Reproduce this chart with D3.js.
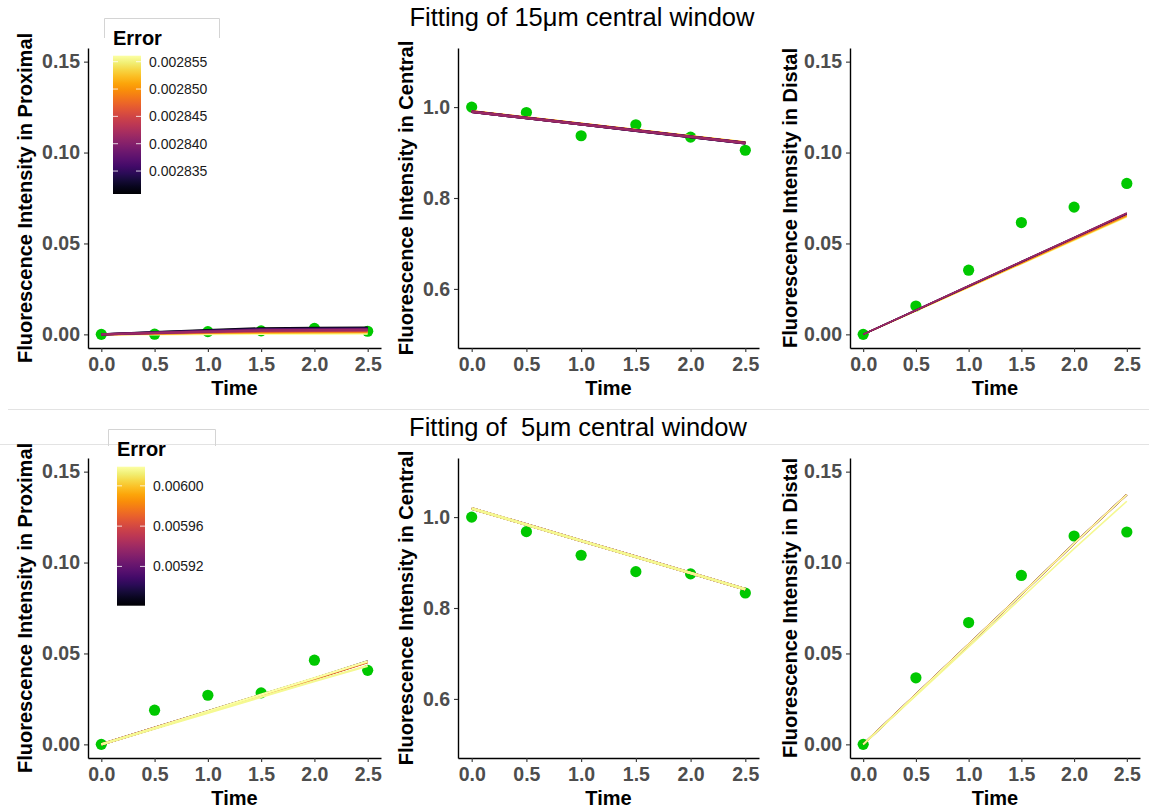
<!DOCTYPE html>
<html>
<head>
<meta charset="utf-8">
<script src="https://cdn.jsdelivr.net/npm/d3@7"></script>
<style>
  html, body { margin: 0; padding: 0; background: #fff; }
  svg { display: block; }
</style>
</head>
<body>
<svg id="chart" width="1149" height="811"></svg>
<script>
// Sampling times shared by every compartment
const TIME = [0, 0.5, 1, 1.5, 2, 2.5];

// ---- 15 µm central window ----
const obs15Proximal = [0, 0.0001, 0.0015, 0.0019, 0.0033, 0.0017];
const obs15Central  = [1.000, 0.988, 0.937, 0.961, 0.934, 0.905];
const obs15Distal   = [0, 0.0156, 0.0353, 0.0615, 0.0700, 0.0830];

// one entry per fitted parameter set (drawn in this order)
const fitErr15 = [0.0028561, 0.0028523, 0.0028485, 0.0028447, 0.0028308, 0.0028346, 0.0028384, 0.0028414];
const fit15Proximal = [
  [0, 0.0001, 0.0002, 0.0003, 0.0003, 0.0004],
  [0, 0.0004, 0.0007, 0.0009, 0.0010, 0.0011],
  [0, 0.0005, 0.0010, 0.0014, 0.0015, 0.0016],
  [0, 0.0007, 0.0013, 0.0018, 0.0020, 0.0021],
  [0, 0.0012, 0.0023, 0.0033, 0.0035, 0.0036],
  [0, 0.0011, 0.0020, 0.0029, 0.0031, 0.0032],
  [0, 0.0009, 0.0017, 0.0025, 0.0027, 0.0028],
  [0, 0.0008, 0.0015, 0.0021, 0.0023, 0.0024]
];
const fit15Central = [
  [0.9910, 0.9772, 0.9634, 0.9496, 0.9358, 0.9224],
  [0.9907, 0.9769, 0.9631, 0.9493, 0.9355, 0.9220],
  [0.9904, 0.9766, 0.9628, 0.9490, 0.9352, 0.9216],
  [0.9901, 0.9763, 0.9625, 0.9487, 0.9349, 0.9212],
  [0.9897, 0.9759, 0.9621, 0.9483, 0.9345, 0.9207],
  [0.9897, 0.9759, 0.9621, 0.9483, 0.9345, 0.9207],
  [0.9898, 0.9760, 0.9622, 0.9484, 0.9346, 0.9208],
  [0.9899, 0.9761, 0.9623, 0.9485, 0.9347, 0.9209]
];
const fit15Distal = [
  [0, 0.0129, 0.0258, 0.0387, 0.0516, 0.0645],
  [0, 0.0130, 0.0260, 0.0390, 0.0520, 0.0650],
  [0, 0.0131, 0.0262, 0.0393, 0.0525, 0.0655],
  [0, 0.0132, 0.0264, 0.0397, 0.0529, 0.0660],
  [0, 0.0133, 0.0266, 0.0399, 0.0532, 0.0665],
  [0, 0.0133, 0.0266, 0.0399, 0.0532, 0.0665],
  [0, 0.0133, 0.0266, 0.0399, 0.0532, 0.0665],
  [0, 0.0133, 0.0267, 0.0400, 0.0533, 0.0667]
];
const errTicks15 = [0.002835, 0.002840, 0.002845, 0.002850, 0.002855];

// ---- 5 µm central window ----
const obs5Proximal = [0, 0.0188, 0.0270, 0.0283, 0.0463, 0.0407];
const obs5Central  = [1.000, 0.968, 0.916, 0.880, 0.875, 0.833];
const obs5Distal   = [0, 0.0366, 0.0670, 0.0929, 0.1146, 0.1168];

const fitErr5 = [0.005881, 0.005905, 0.005940, 0.005975, 0.006019, 0.006016];
const fit5Proximal = [
  [0, 0.0091, 0.0181, 0.0272, 0.0362, 0.0456],
  [0, 0.0090, 0.0180, 0.0271, 0.0361, 0.0455],
  [0, 0.0090, 0.0180, 0.0270, 0.0360, 0.0454],
  [0, 0.0090, 0.0180, 0.0270, 0.0360, 0.0453],
  [0, 0.0091, 0.0182, 0.0273, 0.0364, 0.0457],
  [0, 0.0087, 0.0174, 0.0261, 0.0348, 0.0432]
];
const fit5Central = [
  [1.0190, 0.9835, 0.9480, 0.9125, 0.8770, 0.8412],
  [1.0190, 0.9835, 0.9480, 0.9125, 0.8770, 0.8412],
  [1.0190, 0.9835, 0.9480, 0.9125, 0.8770, 0.8412],
  [1.0190, 0.9835, 0.9480, 0.9125, 0.8770, 0.8412],
  [1.0191, 0.9836, 0.9481, 0.9126, 0.8771, 0.8413],
  [1.0189, 0.9834, 0.9479, 0.9124, 0.8769, 0.8411]
];
const fit5Distal = [
  [0, 0.0275, 0.0550, 0.0825, 0.1104, 0.1374],
  [0, 0.0275, 0.0550, 0.0825, 0.1104, 0.1374],
  [0, 0.0275, 0.0550, 0.0825, 0.1104, 0.1374],
  [0, 0.0275, 0.0550, 0.0825, 0.1104, 0.1374],
  [0, 0.0275, 0.0550, 0.0825, 0.1104, 0.1374],
  [0, 0.0268, 0.0536, 0.0805, 0.1077, 0.1337]
];
const errTicks5 = [0.00592, 0.00596, 0.00600];

const timeTicks = [0, 0.5, 1, 1.5, 2, 2.5];
const smallTicks = [0, 0.05, 0.10, 0.15];
const centralTicks = [0.6, 0.8, 1.0];

const FONT = "'Liberation Sans', Arial, Helvetica, sans-serif";
const POINT_COLOR = "#00c800";

const svg = d3.select("#chart").style("font-family", FONT);

// One facet: observed points plus one fitted trajectory per parameter set
function drawPanel(g, cfg) {
  const x = d3.scaleLinear().domain([-0.125, 2.625]).range([cfg.x0, cfg.x1]);
  const y = d3.scaleLinear().domain(cfg.yDomain).range([cfg.y1, cfg.y0]);

  // observed points
  g.append("g").selectAll("circle")
    .data(TIME.map((t, i) => [t, cfg.obs[i]]))
    .join("circle")
    .attr("cx", d => x(d[0])).attr("cy", d => y(d[1]))
    .attr("r", 5.6).attr("fill", POINT_COLOR);

  // fitted lines, coloured by their error
  const line = d3.line().x(d => x(d[0])).y(d => y(d[1]));
  g.append("g").selectAll("path")
    .data(cfg.fits.map((f, k) => ({ vals: TIME.map((t, i) => [t, f[i]]), err: cfg.errors[k] })))
    .join("path")
    .attr("d", d => line(d.vals))
    .attr("fill", "none")
    .attr("stroke", d => cfg.color(d.err))
    .attr("stroke-width", cfg.lw)
    .attr("stroke-linejoin", "round");

  // axes
  const xAxis = g.append("g")
    .attr("transform", `translate(0,${cfg.y1})`)
    .call(d3.axisBottom(x).tickValues(timeTicks).tickFormat(d3.format(".1f")).tickSize(4).tickSizeOuter(0).tickPadding(5));
  const yAxis = g.append("g")
    .attr("transform", `translate(${cfg.x0},0)`)
    .call(d3.axisLeft(y).tickValues(cfg.yTicks).tickFormat(d3.format(cfg.fmt)).tickSize(4).tickSizeOuter(0).tickPadding(4));

  [xAxis, yAxis].forEach(a => {
    a.select(".domain").attr("stroke", "#000").attr("stroke-width", 1.4);
    a.selectAll(".tick line").attr("stroke", "#333").attr("stroke-width", 1.1);
    a.selectAll(".tick text")
      .attr("fill", "#4d4d4d").style("font-size", "19.5px").style("font-weight", "bold")
      .style("font-family", FONT);
  });

  // axis titles
  g.append("text")
    .attr("x", (cfg.x0 + cfg.x1) / 2).attr("y", cfg.y1 + 47)
    .attr("text-anchor", "middle")
    .style("font-size", "20px").style("font-weight", "bold").attr("fill", "#000")
    .text("Time");
  g.append("text")
    .attr("transform", `translate(${cfg.titleX},${(cfg.y0 + cfg.y1) / 2}) rotate(-90)`)
    .attr("text-anchor", "middle")
    .style("font-size", "20px").style("font-weight", "bold").attr("fill", "#000")
    .text(cfg.ytitle);
}

// Colour-bar legend for the fit error
function drawLegend(g, cfg) {
  // frame of the legend box
  g.append("path")
    .attr("d", `M${cfg.boxX0},${cfg.boxY1}V${cfg.boxY0}H${cfg.boxX1}V${cfg.boxY1}`)
    .attr("fill", "none").attr("stroke", "#d4d4d4").attr("stroke-width", 1);
  g.append("rect")
    .attr("x", cfg.boxX0 + 0.5).attr("y", cfg.boxY1 - 1)
    .attr("width", cfg.boxX1 - cfg.boxX0 - 1).attr("height", 4).attr("fill", "#fff");

  g.append("text")
    .attr("x", cfg.barX).attr("y", cfg.titleY)
    .style("font-size", "20px").style("font-weight", "bold").attr("fill", "#000")
    .text("Error");

  const s = d3.scaleLinear().domain(cfg.domain).range([cfg.barY1, cfg.barY0]);
  const id = "grad" + cfg.id;
  const grad = svg.append("defs").append("linearGradient")
    .attr("id", id).attr("x1", 0).attr("x2", 0).attr("y1", 1).attr("y2", 0);
  d3.range(0, 1.0001, 0.05).forEach(p => {
    grad.append("stop").attr("offset", p).attr("stop-color", d3.interpolateInferno(p));
  });
  g.append("rect")
    .attr("x", cfg.barX).attr("y", cfg.barY0)
    .attr("width", cfg.barW).attr("height", cfg.barY1 - cfg.barY0)
    .attr("fill", `url(#${id})`);

  cfg.ticks.forEach(v => {
    const yy = s(v);
    g.append("line").attr("x1", cfg.barX).attr("x2", cfg.barX + 5)
      .attr("y1", yy).attr("y2", yy).attr("stroke", "#fff").attr("stroke-opacity", 0.8);
    g.append("line").attr("x1", cfg.barX + cfg.barW - 5).attr("x2", cfg.barX + cfg.barW)
      .attr("y1", yy).attr("y2", yy).attr("stroke", "#fff").attr("stroke-opacity", 0.8);
    g.append("text")
      .attr("x", cfg.barX + cfg.barW + 8).attr("y", yy).attr("dy", "0.35em")
      .style("font-size", "14px").attr("fill", "#1a1a1a")
      .text(d3.format(cfg.fmt)(v));
  });
}

function drawRow(offset, spec) {
  const g = svg.append("g").attr("transform", `translate(0,${offset})`);
  const color = d3.scaleSequential(d3.interpolateInferno).domain(spec.errDomain);

  g.append("text")
    .attr("x", spec.titleX).attr("y", 26).attr("text-anchor", "middle")
    .style("font-size", "25.5px").attr("fill", "#000")
    .style("white-space", "pre")
    .text(spec.title);

  const y0 = 48, y1 = 348;
  drawPanel(g, { x0: 88, x1: 381, y0, y1, yDomain: [-0.0075, 0.1575], yTicks: smallTicks, fmt: ".2f",
    obs: spec.obsP, fits: spec.fitP, errors: spec.err, color, lw: 2.4, titleX: 32,
    ytitle: "Fluorescence Intensity in Proximal" });
  drawPanel(g, { x0: 458, x1: 759, y0, y1, yDomain: [0.47, 1.13], yTicks: centralTicks, fmt: ".1f",
    obs: spec.obsC, fits: spec.fitC, errors: spec.err, color, lw: 2.6, titleX: 413,
    ytitle: "Fluorescence Intensity in Central" });
  drawPanel(g, { x0: 850, x1: 1140, y0, y1, yDomain: [-0.0075, 0.1575], yTicks: smallTicks, fmt: ".2f",
    obs: spec.obsD, fits: spec.fitD, errors: spec.err, color, lw: 1.6, titleX: 797,
    ytitle: "Fluorescence Intensity in Distal" });

  drawLegend(g, spec.legend);
}

// separators between the two rows
svg.append("line").attr("x1", 8).attr("x2", 1149).attr("y1", 409.5).attr("y2", 409.5)
  .attr("stroke", "#e3e3e3").attr("stroke-width", 1);
svg.append("line").attr("x1", 0).attr("x2", 1149).attr("y1", 444.5).attr("y2", 444.5)
  .attr("stroke", "#e3e3e3").attr("stroke-width", 1);

drawRow(0, {
  title: "Fitting of 15\u03bcm central window", titleX: 582,
  obsP: obs15Proximal, obsC: obs15Central, obsD: obs15Distal,
  fitP: fit15Proximal, fitC: fit15Central, fitD: fit15Distal,
  err: fitErr15, errDomain: [0.0028308, 0.0028561],
  legend: { id: 15, boxX0: 104.5, boxX1: 219.5, boxY0: 18.5, boxY1: 38,
    barX: 113, barW: 28, barY0: 55.7, barY1: 194, titleY: 45,
    domain: [0.0028308, 0.0028561], ticks: errTicks15, fmt: ".6f" }
});

drawRow(410, {
  title: "Fitting of  5\u03bcm central window", titleX: 578,
  obsP: obs5Proximal, obsC: obs5Central, obsD: obs5Distal,
  fitP: fit5Proximal, fitC: fit5Central, fitD: fit5Distal,
  err: fitErr5, errDomain: [0.005881, 0.006019],
  legend: { id: 5, boxX0: 108.5, boxX1: 215.5, boxY0: 19.5, boxY1: 36,
    barX: 117, barW: 28, barY0: 56.7, barY1: 195.7, titleY: 46,
    domain: [0.005881, 0.006019], ticks: errTicks5, fmt: ".5f" }
});
</script>
</body>
</html>
